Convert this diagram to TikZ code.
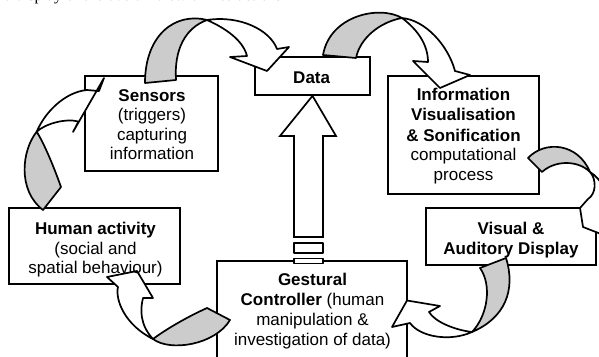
\documentclass[tikz,border=0pt]{standalone}
\usepackage{fontspec}
\setmainfont{Liberation Sans}
\newfontfamily\captionserif{Liberation Serif}
\definecolor{backgray}{HTML}{CCCCCC}
\begin{document}
\begin{tikzpicture}[x=1pt,y=-1pt,line width=1.7pt,
  box/.style={draw,fill=white,rectangle,inner sep=0pt},
  lbl/.style={anchor=base,inner sep=0pt,font=\fontsize{17}{19.6}\selectfont},
  back/.style={draw,fill=backgray,line join=round},
  front/.style={draw,fill=white,line join=round}]
\useasboundingbox (0,0) rectangle (599,356);
\clip (0,0) rectangle (599,356);
% caption line cut off at the top
\node[anchor=base west,inner sep=0pt,font=\captionserif\fontsize{16}{18}\selectfont] (cap) at (-12,1) {and display of the overall view of interaction.};
% boxes
\node[box,minimum width=133pt,minimum height=95pt] (sensors) at (151.5,123.5) {};
\node[box,minimum width=115pt,minimum height=38pt] (data) at (312.5,76) {};
\node[box,minimum width=151pt,minimum height=118pt] (info) at (463.5,135) {};
\node[box,minimum width=170pt,minimum height=57pt] (display) at (511,236.5) {};
\node[box,minimum width=171pt,minimum height=76pt] (human) at (94.5,246) {};
\node[box,minimum width=190pt,minimum height=125pt] (gest) at (312,323.5) {};
% block arrow from controller up to data
\draw[front,line join=miter] (294,237) -- (294,136) -- (280,136) -- (data.south) -- (336,136) -- (323,136) -- (323,237) -- cycle;
\draw[front] (294,243) rectangle (323,253);
\draw[front] (294,258.5) rectangle (323,263.5);
% A: human activity -> sensors
\draw[back] (36.7,131.7) .. controls (22,150) and (17,190) .. (43,210) -- (61,187) .. controls (55,170) and (45,145) .. (36.7,131.7) -- cycle;
\draw[front] (36.7,131.7) .. controls (45,112) and (65,92) .. (87,90) -- (99,91) -- (104,78) -- (73,132) -- (78.5,121.5) .. controls (65,118) and (45,124) .. (36.7,131.7) -- cycle;
% B: sensors -> data
\draw[back] (207,20) .. controls (175,12) and (145,35) .. (145,83) -- (176,80) .. controls (174,50) and (185,28) .. (207,20) -- cycle;
\draw[front] (207,20) .. controls (240,15) and (270,30) .. (277,49) -- (289,47) -- (267,71) -- (230,57) -- (247,56) .. controls (243,40) and (225,28) .. (207,20) -- cycle;
% C: data -> information visualisation
\draw[back] (402,18) .. controls (380,5) and (330,15) .. (323,55) -- (356,58) .. controls (360,38) and (380,22) .. (402,18) -- cycle;
\draw[front] (402,18) .. controls (425,20) and (448,45) .. (455,71) -- (470,75) -- (440,88) -- (413,61) -- (428,62) .. controls (428,45) and (418,30) .. (402,18) -- cycle;
% D: information visualisation -> display
\draw[back] (528,158) .. controls (545,140) and (578,143) .. (590,172) .. controls (578,160) and (555,160) .. (542,172) -- cycle;
\draw[front] (590,172) .. controls (597,180) and (596,194) .. (588,199) -- (580,208) -- (583,227) -- (601,234) -- (608,215) .. controls (612,195) and (600,178) .. (590,172) -- cycle;
% E: display -> gestural controller
\draw[back] (480,268) -- (506,258) .. controls (516,290) and (505,318) .. (472,332) .. controls (488,315) and (492,285) .. (480,268) -- cycle;
\draw[front] (472,332) .. controls (455,330) and (435,322) .. (429,312) -- (440,306) -- (407,300.5) -- (392,327) -- (410,323) .. controls (420,337) and (450,342) .. (472,332) -- cycle;
% F: gestural controller -> human activity
\draw[back] (207,308) -- (230,320) .. controls (215,345) and (170,352) .. (153,339) .. controls (165,330) and (185,318) .. (207,308) -- cycle;
\draw[front] (153,339) .. controls (125,325) and (115,300) .. (118,287) -- (107,277) -- (137,271) -- (153,298) -- (143,298) .. controls (140,310) and (140,325) .. (153,339) -- cycle;
% texts
\node[lbl] (s1) at (152,101) {\textbf{Sensors}};
\node[lbl] (s2) at (152,120.6) {(triggers)};
\node[lbl] (s3) at (152,140.2) {capturing};
\node[lbl] (s4) at (152,159.8) {information};
\node[lbl] (d1) at (311.7,83.3) {\textbf{Data}};
\node[lbl] (i1) at (463.5,100.6) {\textbf{Information}};
\node[lbl] (i2) at (463.5,120.8) {\textbf{Visualisation}};
\node[lbl] (i3) at (463.5,141) {\textbf{\& Sonification}};
\node[lbl] (i4) at (463.5,160.6) {computational};
\node[lbl] (i5) at (463.5,180.2) {process};
\node[lbl] (v1) at (511,234) {\textbf{Visual \&}};
\node[lbl] (v2) at (511,254) {\textbf{Auditory Display}};
\node[lbl] (h1) at (95.5,234.3) {\textbf{Human activity}};
\node[lbl] (h2) at (95.5,254) {(social and};
\node[lbl] (h3) at (95.5,273.8) {spatial behaviour)};
\node[lbl] (g1) at (312.5,285.3) {\textbf{Gestural}};
\node[lbl] (g2) at (312.5,305.4) {\textbf{Controller} (human};
\node[lbl] (g3) at (312.5,325.2) {manipulation \&};
\node[lbl] (g4) at (312.5,345) {investigation of data)};
\end{tikzpicture}
\end{document}
